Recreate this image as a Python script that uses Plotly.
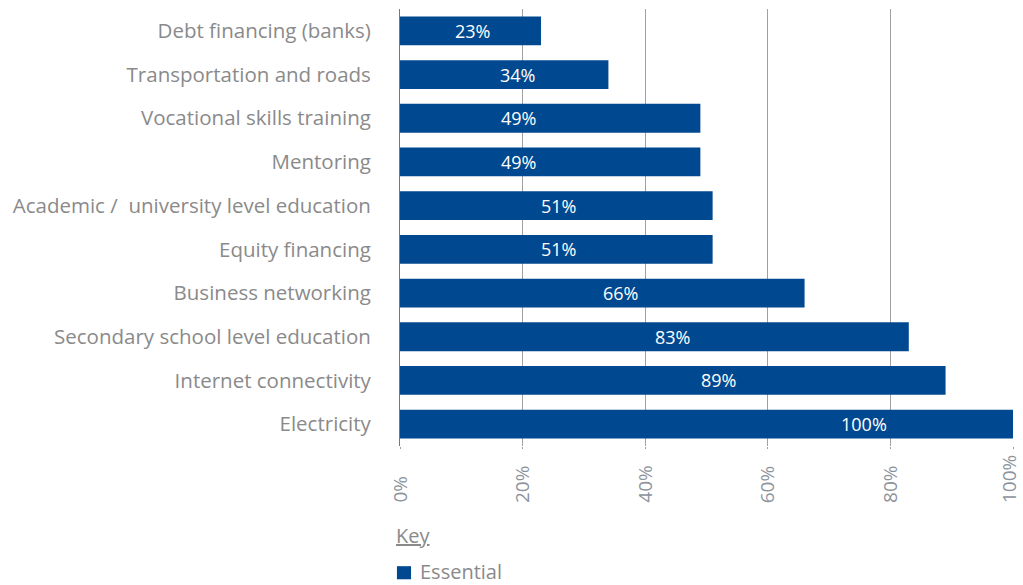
import plotly.graph_objects as go

categories = [
    "Debt financing (banks)",
    "Transportation and roads",
    "Vocational skills training",
    "Mentoring",
    "Academic /  university level education",
    "Equity financing",
    "Business networking",
    "Secondary school level education",
    "Internet connectivity",
    "Electricity",
]
values = [23, 34, 49, 49, 51, 51, 66, 83, 89, 100]
tick_values = [0, 20, 40, 60, 80, 100]
tick_labels = ["0%", "20%", "40%", "60%", "80%", "100%"]
series_name = "Essential"

bar_color = "#004990"
label_gray = "#8a8a8a"
tick_gray = "#8c939c"
font_family = "Open Sans"

# where each value label sits along its bar (axis units)
value_label_pos = [11.8, 19.2, 19.4, 19.4, 25.8, 25.8, 35.9, 44.5, 51.9, 75.7]

fig = go.Figure()
fig.add_trace(go.Bar(
    y=categories,
    x=values,
    orientation="h",
    marker=dict(color=bar_color, line=dict(width=0)),
    name=series_name,
    showlegend=False,
    hovertemplate="%{y}: %{x}%<extra></extra>",
))

annotations = []

# value labels on the bars
for cat, v, pos in zip(categories, values, value_label_pos):
    annotations.append(dict(
        x=pos, xref="x", y=cat, yref="y",
        text=f"{v}%", showarrow=False,
        xanchor="center", yanchor="middle",
        font=dict(color="white", size=18, family=font_family),
    ))

# rotated tick labels, anchored at their start (bottom);
# the last one is nudged left so it stays inside the page
for i, (v, t) in enumerate(zip(tick_values, tick_labels)):
    annotations.append(dict(
        x=v, xref="x", y=-0.135, yref="paper",
        text=t, textangle=-90, showarrow=False,
        xanchor="center", yanchor="bottom",
        xshift=-4 if i == len(tick_values) - 1 else 0,
        font=dict(size=19, color=tick_gray, family=font_family),
    ))

# key
annotations.append(dict(
    x=-0.009, xref="paper", y=-0.205, yref="paper",
    text="<u>Key</u>", showarrow=False, xanchor="left", yanchor="middle",
    font=dict(size=20, color=label_gray, family=font_family),
))
annotations.append(dict(
    x=0.03, xref="paper", y=-0.288, yref="paper",
    text=series_name, showarrow=False, xanchor="left", yanchor="middle",
    font=dict(size=20, color=label_gray, family=font_family),
))

fig.update_layout(
    width=1023, height=585,
    margin=dict(l=400, r=10, t=9, b=139),
    paper_bgcolor="white", plot_bgcolor="white",
    bargap=0.34,
    annotations=annotations,
    shapes=[dict(
        type="rect", xref="paper", yref="paper",
        x0=-0.005, x1=0.018, y0=-0.275, y1=-0.305,
        fillcolor=bar_color, line=dict(width=0),
    )],
    xaxis=dict(
        range=[0, 100], tickvals=tick_values, showticklabels=False,
        showgrid=True, gridcolor="#a0a0a0", gridwidth=1,
        ticks="outside", ticklen=2, tickcolor="#a0a0a0",
        zeroline=False, showline=False,
    ),
    yaxis=dict(
        autorange="reversed", showgrid=False,
        showline=True, linecolor="#777777", linewidth=1,
        ticks="", ticklabelstandoff=24,
        tickfont=dict(size=20.5, color=label_gray, family=font_family),
    ),
)

fig.write_html("out.html")
